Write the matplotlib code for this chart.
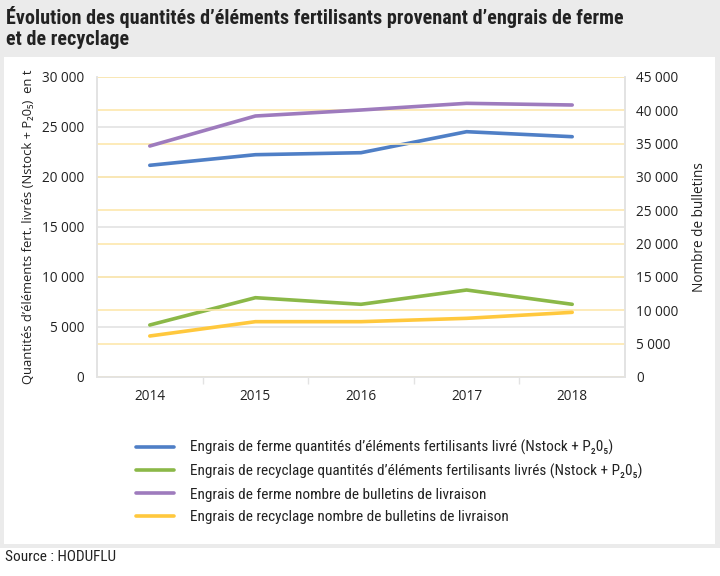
import matplotlib
matplotlib.use("Agg")
import matplotlib.pyplot as plt
from matplotlib import font_manager
from matplotlib.patches import Rectangle
from matplotlib.ticker import FuncFormatter, MultipleLocator, FixedLocator


# pick a narrow font if one is installed, the original uses a condensed face
def pick_font(names):
    for name in names:
        try:
            font_manager.findfont(font_manager.FontProperties(family=name), fallback_to_default=False)
            return name
        except ValueError:
            continue
    return "DejaVu Sans"


NARROW = pick_font(["Roboto Condensed", "Liberation Sans Narrow", "Open Sans"])
AXFONT = ["Open Sans", "DejaVu Sans"]
plt.rcParams["font.family"] = [NARROW, "DejaVu Sans"]

# data
years = ["2014", "2015", "2016", "2017", "2018"]
ferme_qte = [21170, 22230, 22430, 24530, 24030]
recyclage_qte = [5200, 7930, 7270, 8700, 7270]
ferme_bulletins = [34650, 39150, 40050, 41050, 40800]
recyclage_bulletins = [6150, 8300, 8300, 8800, 9700]

labels = [
    "Engrais de ferme quantités d’éléments fertilisants livré (Nstock + P₂0₅)",
    "Engrais de recyclage quantités d’éléments fertilisants livrés (Nstock + P₂0₅)",
    "Engrais de ferme nombre de bulletins de livraison",
    "Engrais de recyclage nombre de bulletins de livraison",
]

BLUE = "#4f7fc6"
GREEN = "#8bb848"
PURPLE = "#9e7bbd"
YELLOW = "#ffc83d"
GRID_GREY = "#e3e3e3"
GRID_YELLOW = "#fde7ad"
TXT = "#222222"

fig = plt.figure(figsize=(7.2, 5.76), dpi=100, facecolor="white")
# grey frame behind the title and around the white panel
fig.patches.append(Rectangle((0, 1 - 548 / 576), 1, 548 / 576,
                             transform=fig.transFigure, facecolor="#ebebeb",
                             edgecolor="none", zorder=-20))
fig.patches.append(Rectangle((4 / 720, 1 - 544 / 576), 711 / 720, 487 / 576,
                             transform=fig.transFigure, facecolor="white",
                             edgecolor="none", zorder=-10))

ax = fig.add_axes([97 / 720, 1 - 377 / 576, 528 / 720, 300 / 576])
ax.patch.set_alpha(0)
ax2 = ax.twinx()

x = list(range(len(years)))
l1, = ax.plot(x, ferme_qte, color=BLUE, lw=2.6, solid_capstyle="round", zorder=3)
l2, = ax.plot(x, recyclage_qte, color=GREEN, lw=2.6, solid_capstyle="round", zorder=3)
l3, = ax2.plot(x, ferme_bulletins, color=PURPLE, lw=2.6, solid_capstyle="round", zorder=3)
l4, = ax2.plot(x, recyclage_bulletins, color=YELLOW, lw=2.6, solid_capstyle="round", zorder=3)

thousands = FuncFormatter(lambda v, p: f"{int(v):,}".replace(",", " "))

ax.set_xlim(-0.5, 4.5)
ax.set_ylim(0, 30000)
ax2.set_ylim(0, 45000)
ax.yaxis.set_major_locator(MultipleLocator(5000))
ax2.yaxis.set_major_locator(MultipleLocator(5000))
ax.yaxis.set_major_formatter(thousands)
ax2.yaxis.set_major_formatter(thousands)

ax.set_xticks(x)
ax.set_xticklabels(years)
ax.xaxis.set_minor_locator(FixedLocator([0.5, 1.5, 2.5, 3.5]))
ax.tick_params(axis="x", which="major", length=0, pad=9)
ax.tick_params(axis="x", which="minor", length=5, color=GRID_GREY, width=1)
ax.tick_params(axis="y", length=0, pad=9)
ax2.tick_params(axis="y", length=0, pad=8)
for a in (ax, ax2):
    for t in a.get_xticklabels() + a.get_yticklabels():
        t.set_family(AXFONT)
        t.set_fontsize(9.8)
        t.set_color(TXT)

ax.grid(axis="y", color=GRID_GREY, lw=1.2, zorder=0)
ax2.grid(axis="y", color=GRID_YELLOW, lw=1.2, zorder=0)
ax.set_axisbelow(True)
ax2.set_axisbelow(True)

for a in (ax, ax2):
    for s in a.spines.values():
        s.set_color(GRID_GREY)
        s.set_linewidth(1.2)
    a.spines["top"].set_visible(False)

ax.set_ylabel("Quantités d’éléments fert. livrés (Nstock + P₂0₅)  en t",
              fontsize=9.4, color=TXT, labelpad=5, family=AXFONT)
ax2.set_ylabel("Nombre de bulletins", fontsize=9.8, color=TXT, labelpad=10, family=AXFONT)

fig.text(6 / 720, 1 - 6 / 576,
         "Évolution des quantités d’éléments fertilisants provenant d’engrais de ferme\net de recyclage",
         fontsize=14.5, fontweight="bold", color=TXT, va="top", ha="left", linespacing=1.15)
fig.text(5 / 720, 1 - 557 / 576, "Source : HODUFLU", fontsize=11, color=TXT,
         va="center", ha="left")

fig.legend([l1, l2, l3, l4], labels, loc="upper left",
           bbox_to_anchor=(130 / 720, 1 - 434 / 576), frameon=False,
           fontsize=11, handlelength=2.5, handletextpad=1.0, labelspacing=0.55,
           borderaxespad=0, labelcolor=TXT)

fig.savefig("out.png", dpi=100, facecolor=fig.get_facecolor())
